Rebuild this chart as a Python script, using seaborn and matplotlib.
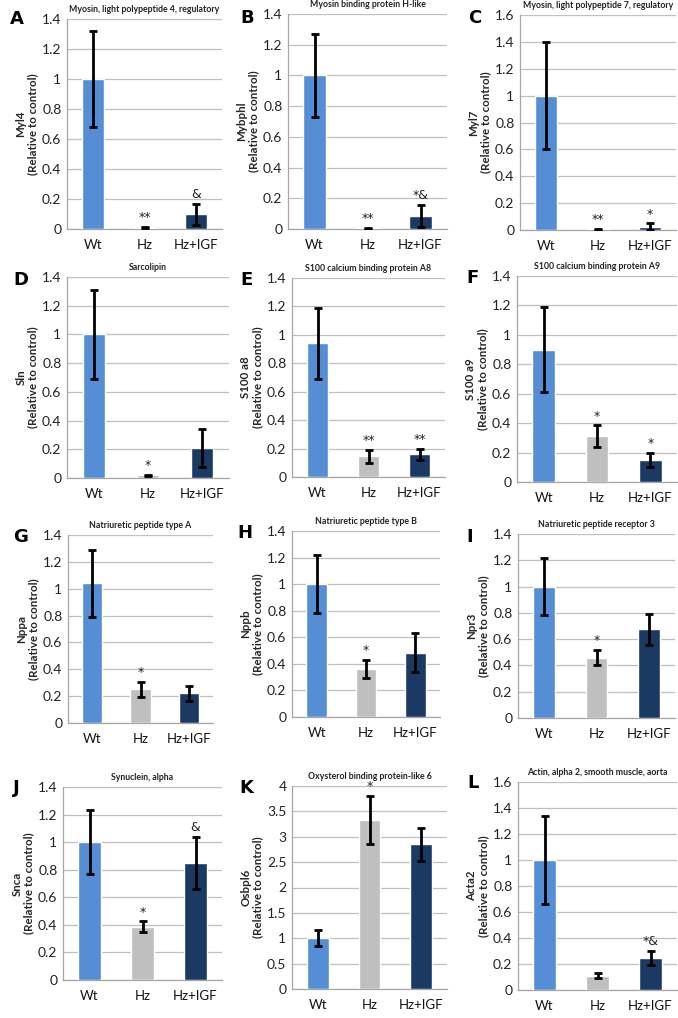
import matplotlib
matplotlib.use("Agg")
import matplotlib.pyplot as plt
import seaborn as sns
import pandas as pd
import numpy as np
from matplotlib.ticker import MultipleLocator, FixedLocator

sns.set_theme(style="white")
plt.rcParams['font.family'] = ['Lato', 'DejaVu Sans']

# ---------------- data ----------------
groups = ["Wt", "Hz", "Hz+IGF"]
bar_colors = ["#558ED5", "#BFBFBF", "#1B3A63"]

panel_letters = ["A", "B", "C", "D", "E", "F", "G", "H", "I", "J", "K", "L"]
titles = [
    "Myosin, light polypeptide 4, regulatory",
    "Myosin binding protein H-like",
    "Myosin, light polypeptide 7, regulatory",
    "Sarcolipin",
    "S100 calcium binding protein A8",
    "S100 calcium binding protein A9",
    "Natriuretic peptide type A",
    "Natriuretic peptide type B",
    "Natriuretic peptide receptor 3",
    "Synuclein, alpha",
    "Oxysterol binding protein-like 6",
    "Actin, alpha 2, smooth muscle, aorta",
]
genes = ["Myl4", "Mybphl", "Myl7", "Sln", "S100 a8", "S100 a9",
         "Nppa", "Nppb", "Npr3", "Snca", "Osbpl6", "Acta2"]
y_max = [1.4, 1.4, 1.6, 1.4, 1.4, 1.4, 1.4, 1.4, 1.4, 1.4, 4.0, 1.6]
y_step = [0.2, 0.2, 0.2, 0.2, 0.2, 0.2, 0.2, 0.2, 0.2, 0.2, 0.5, 0.2]

wt_mean = [1.00, 1.00, 1.00, 1.00, 0.94, 0.90, 1.04, 1.00, 1.00, 1.00, 1.00, 1.00]
wt_err = [0.32, 0.27, 0.40, 0.31, 0.25, 0.29, 0.25, 0.22, 0.22, 0.23, 0.16, 0.34]
hz_mean = [0.01, 0.005, 0.005, 0.02, 0.145, 0.31, 0.25, 0.36, 0.46, 0.385, 3.33, 0.11]
hz_err = [0.003, 0.002, 0.002, 0.004, 0.045, 0.075, 0.055, 0.07, 0.06, 0.04, 0.47, 0.02]
igf_mean = [0.10, 0.085, 0.025, 0.21, 0.16, 0.15, 0.22, 0.485, 0.675, 0.85, 2.85, 0.245]
igf_err = [0.07, 0.07, 0.025, 0.13, 0.04, 0.05, 0.055, 0.145, 0.12, 0.19, 0.33, 0.055]

hz_annot = ["**", "**", "**", "*", "**", "*", "*", "*", "*", "*", "*", ""]
igf_annot = ["&", "*&", "*", "", "**", "*", "", "", "", "&", "", "*&"]

# ---------------- layout (pixels: left, right, top, bottom) ----------------
W, H = 678, 1018
rects_px = [
    (67, 222, 19, 229), (288, 447, 14, 229), (520, 676, 15, 230),
    (67, 229, 277, 478), (292, 445, 278, 477), (517, 677, 276, 482),
    (68, 213, 535, 723), (292, 440, 531, 717), (518, 675, 534, 718),
    (63, 222, 787, 980), (292, 447, 786, 989), (518, 677, 782, 990),
]
letter_px = [
    (10, 19), (240, 18), (468, 18),
    (13, 280), (240, 280), (466, 278),
    (13, 537), (237, 533), (466, 537),
    (13, 788), (239, 788), (467, 783),
]

fig = plt.figure(figsize=(W / 100, H / 100), dpi=100)
fig.patch.set_facecolor("white")

grid_col = "#BFBFBF"

for i in range(12):
    l, r, t, b = rects_px[i]
    ax = fig.add_axes([l / W, 1 - b / H, (r - l) / W, (b - t) / H])
    df = pd.DataFrame({
        "group": groups,
        "value": [wt_mean[i], hz_mean[i], igf_mean[i]],
    })
    sns.barplot(data=df, x="group", y="value", hue="group", order=groups,
                hue_order=groups, palette=bar_colors, width=0.42,
                errorbar=None, legend=False, ax=ax, saturation=1, zorder=3)
    errs = [wt_err[i], hz_err[i], igf_err[i]]
    means = [wt_mean[i], hz_mean[i], igf_mean[i]]
    annots = ["", hz_annot[i], igf_annot[i]]
    centers = [p.get_x() + p.get_width() / 2 for p in ax.patches]
    for xc, m, e, a in zip(centers, means, errs, annots):
        if e > 0:
            ax.errorbar(xc, m, yerr=e, fmt="none", ecolor="black",
                        elinewidth=2.0, capsize=3.2, capthick=2.0, zorder=4)
        if a:
            ax.annotate(a, xy=(xc, m + e), xytext=(0, 2),
                        textcoords="offset points", ha="center", va="bottom",
                        fontsize=9, color="#222222", zorder=5,
                        family=["DejaVu Sans"])

    ax.set_xlim(-0.5, 2.5)
    ax.set_ylim(0, y_max[i])
    ax.yaxis.set_major_locator(MultipleLocator(y_step[i]))
    ax.yaxis.set_major_formatter(plt.FuncFormatter(lambda v, p: f"{v:g}"))
    ax.grid(axis="y", color=grid_col, linewidth=0.9, zorder=0)
    ax.grid(axis="x", visible=False)
    ax.set_axisbelow(True)
    for s in ["top", "right"]:
        ax.spines[s].set_visible(False)
    for s in ["left", "bottom"]:
        ax.spines[s].set_color("#A6A6A6")
        ax.spines[s].set_linewidth(0.9)
    ax.xaxis.set_minor_locator(FixedLocator([-0.5, 0.5, 1.5, 2.5]))
    ax.tick_params(axis="x", which="major", length=0, pad=7,
                   labelsize=9.5, labelcolor="#111111")
    ax.tick_params(axis="x", which="minor", length=4, width=0.9,
                   color="#A6A6A6", direction="out")
    ax.tick_params(axis="y", which="major", length=0, pad=4,
                   labelsize=10, labelcolor="#222222")
    ax.set_xlabel("")
    ax.set_ylabel(f"{genes[i]}\n(Relative to control)", fontsize=8.3,
                  fontweight="bold", labelpad=3, linespacing=1.05)
    ax.set_title(titles[i], fontsize=6.3, fontweight="bold", pad=5,
                 color="#222222")
    lx, ly = letter_px[i]
    fig.text(lx / W, 1 - ly / H, panel_letters[i], fontsize=13,
             fontweight="bold", ha="left", va="center", color="black",
             family=["DejaVu Sans"])

fig.savefig("out.png", dpi=100, facecolor="white")
